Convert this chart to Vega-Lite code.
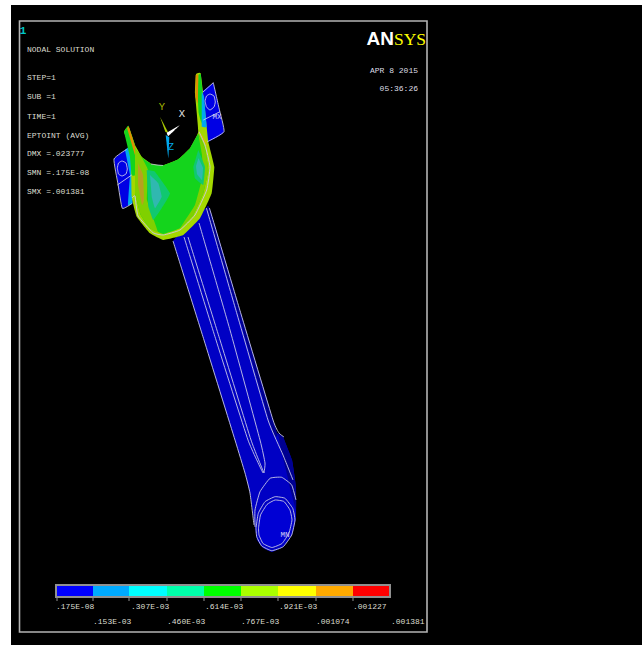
{
"$schema":"https://vega.github.io/schema/vega-lite/v6.json",
"width":642,"height":645,"padding":0,
"autosize":{"type":"fit","contains":"padding"},
"background":"#ffffff",
"config":{"view":{"stroke":null}},
"datasets":{
"polys":[
{"p":"shaft","b":"body","x":173,"y":241},{"p":"shaft","b":"body","x":204,"y":340},{"p":"shaft","b":"body","x":235,"y":440},{"p":"shaft","b":"body","x":245,"y":473},{"p":"shaft","b":"body","x":250,"y":493},{"p":"shaft","b":"body","x":255,"y":527},{"p":"shaft","b":"body","x":257,"y":540},{"p":"shaft","b":"body","x":263,"y":548},{"p":"shaft","b":"body","x":272,"y":552},{"p":"shaft","b":"body","x":283,"y":547},{"p":"shaft","b":"body","x":292,"y":535},{"p":"shaft","b":"body","x":296,"y":518},{"p":"shaft","b":"body","x":296,"y":487},{"p":"shaft","b":"body","x":292,"y":460},{"p":"shaft","b":"body","x":283,"y":437},{"p":"shaft","b":"body","x":277,"y":433},{"p":"shaft","b":"body","x":273,"y":420},{"p":"shaft","b":"body","x":241,"y":314},{"p":"shaft","b":"body","x":209.4,"y":208},{"p":"shaft","b":"body","x":190,"y":220},
{"p":"strip","b":"dark","x":206.4,"y":208},{"p":"strip","b":"dark","x":209.4,"y":208},{"p":"strip","b":"dark","x":243,"y":320},{"p":"strip","b":"dark","x":277,"y":433},{"p":"strip","b":"dark","x":273,"y":433},{"p":"strip","b":"dark","x":240,"y":320},
{"p":"bump","b":"dark","x":278,"y":433},{"p":"bump","b":"dark","x":283,"y":437},{"p":"bump","b":"dark","x":292,"y":460},{"p":"bump","b":"dark","x":296,"y":487},{"p":"bump","b":"dark","x":296,"y":510},{"p":"bump","b":"dark","x":291,"y":492},{"p":"bump","b":"dark","x":286,"y":470},{"p":"bump","b":"dark","x":281,"y":450},
{"p":"end","b":"face","x":258.5,"y":528},{"p":"end","b":"face","x":260.5,"y":515},{"p":"end","b":"face","x":267,"y":504.5},{"p":"end","b":"face","x":275,"y":500},{"p":"end","b":"face","x":284,"y":501.5},{"p":"end","b":"face","x":290,"y":510},{"p":"end","b":"face","x":292,"y":520},{"p":"end","b":"face","x":289,"y":533},{"p":"end","b":"face","x":282,"y":543.5},{"p":"end","b":"face","x":272,"y":547.5},{"p":"end","b":"face","x":263,"y":543.5},{"p":"end","b":"face","x":259,"y":535},

{"p":"lf","b":"flange","x":114,"y":159},{"p":"lf","b":"flange","x":126.7,"y":149.3},{"p":"lf","b":"flange","x":133.3,"y":175},{"p":"lf","b":"flange","x":132.3,"y":203.3},{"p":"lf","b":"flange","x":122.3,"y":208.3},
{"p":"lfc","b":"sky","x":125,"y":150},{"p":"lfc","b":"sky","x":130,"y":147},{"p":"lfc","b":"sky","x":134,"y":175},{"p":"lfc","b":"sky","x":132.5,"y":203},{"p":"lfc","b":"sky","x":128,"y":205},{"p":"lfc","b":"sky","x":130,"y":175},
{"p":"rf","b":"flange","x":213.3,"y":82.7},{"p":"rf","b":"flange","x":224,"y":131.7},{"p":"rf","b":"flange","x":207.3,"y":141.7},{"p":"rf","b":"flange","x":203,"y":120},{"p":"rf","b":"flange","x":201.7,"y":91.7},

{"p":"sil","b":"lime","x":128.3,"y":125.7},{"p":"sil","b":"lime","x":124,"y":131.7},{"p":"sil","b":"lime","x":130.7,"y":150},{"p":"sil","b":"lime","x":131.7,"y":196.7},{"p":"sil","b":"lime","x":136.7,"y":216.7},{"p":"sil","b":"lime","x":150,"y":233.3},{"p":"sil","b":"lime","x":163.3,"y":240},{"p":"sil","b":"lime","x":183.3,"y":235},{"p":"sil","b":"lime","x":200,"y":218.3},{"p":"sil","b":"lime","x":211.7,"y":193.3},{"p":"sil","b":"lime","x":214.3,"y":166.7},{"p":"sil","b":"lime","x":208.3,"y":141.7},{"p":"sil","b":"lime","x":205,"y":110},{"p":"sil","b":"lime","x":200.7,"y":73.3},{"p":"sil","b":"lime","x":196,"y":74},{"p":"sil","b":"lime","x":195,"y":93.3},{"p":"sil","b":"lime","x":198.3,"y":131.7},{"p":"sil","b":"lime","x":190,"y":148.3},{"p":"sil","b":"lime","x":178.3,"y":159.3},{"p":"sil","b":"lime","x":163.3,"y":165.3},{"p":"sil","b":"lime","x":151.7,"y":164},{"p":"sil","b":"lime","x":141.7,"y":156.7},{"p":"sil","b":"lime","x":135,"y":145},

{"p":"lw","b":"green","x":124,"y":131.7},{"p":"lw","b":"green","x":128.3,"y":125.7},{"p":"lw","b":"green","x":135,"y":145},{"p":"lw","b":"green","x":135,"y":175},{"p":"lw","b":"green","x":131.7,"y":175},{"p":"lw","b":"green","x":130,"y":157},
{"p":"lo","b":"orange","x":127,"y":128},{"p":"lo","b":"orange","x":129,"y":127},{"p":"lo","b":"orange","x":135,"y":146},{"p":"lo","b":"orange","x":135,"y":155},{"p":"lo","b":"orange","x":132,"y":145},
{"p":"rg","b":"green","x":198.3,"y":75},{"p":"rg","b":"green","x":200.7,"y":74},{"p":"rg","b":"green","x":203.3,"y":100},{"p":"rg","b":"green","x":201.7,"y":123.3},{"p":"rg","b":"green","x":198.7,"y":113.3},{"p":"rg","b":"green","x":197.7,"y":93.3},
{"p":"ro","b":"orange","x":195.7,"y":75},{"p":"ro","b":"orange","x":198.3,"y":75},{"p":"ro","b":"orange","x":197.7,"y":103.3},{"p":"ro","b":"orange","x":195.3,"y":96.7},
{"p":"rc","b":"sky","x":201.7,"y":91.7},{"p":"rc","b":"sky","x":204,"y":96.7},{"p":"rc","b":"sky","x":206.7,"y":126.7},{"p":"rc","b":"sky","x":201.7,"y":126.7},
{"p":"ry","b":"gold","x":199,"y":131},{"p":"ry","b":"gold","x":206,"y":141},{"p":"ry","b":"gold","x":208,"y":147},{"p":"ry","b":"gold","x":203,"y":140},

{"p":"in","b":"green","x":135,"y":148.3},{"p":"in","b":"green","x":141.7,"y":157.3},{"p":"in","b":"green","x":151.7,"y":164.3},{"p":"in","b":"green","x":163.3,"y":165.3},{"p":"in","b":"green","x":178.3,"y":159.3},{"p":"in","b":"green","x":190,"y":148.3},{"p":"in","b":"green","x":198.3,"y":134},{"p":"in","b":"green","x":205,"y":148.3},{"p":"in","b":"green","x":208.3,"y":170},{"p":"in","b":"green","x":203.3,"y":193.3},{"p":"in","b":"green","x":193.3,"y":215},{"p":"in","b":"green","x":180,"y":228.3},{"p":"in","b":"green","x":163.3,"y":234},{"p":"in","b":"green","x":150,"y":228.3},{"p":"in","b":"green","x":140.7,"y":215},{"p":"in","b":"green","x":135,"y":193.3},
{"p":"ly","b":"lime2","x":135,"y":148.3},{"p":"ly","b":"lime2","x":141.7,"y":157.3},{"p":"ly","b":"lime2","x":148,"y":170},{"p":"ly","b":"lime2","x":147,"y":200},{"p":"ly","b":"lime2","x":158,"y":232},{"p":"ly","b":"lime2","x":150,"y":228.3},{"p":"ly","b":"lime2","x":140.7,"y":215},{"p":"ly","b":"lime2","x":135,"y":193.3},
{"p":"ls","b":"brown","x":138,"y":163},{"p":"ls","b":"brown","x":143,"y":175},{"p":"ls","b":"brown","x":144,"y":200},{"p":"ls","b":"brown","x":142,"y":205},{"p":"ls","b":"brown","x":138,"y":185},
{"p":"ry2","b":"lime2","x":198.3,"y":134},{"p":"ry2","b":"lime2","x":205,"y":148.3},{"p":"ry2","b":"lime2","x":208.3,"y":170},{"p":"ry2","b":"lime2","x":203.3,"y":193.3},{"p":"ry2","b":"lime2","x":193.3,"y":215},{"p":"ry2","b":"lime2","x":180,"y":228.3},{"p":"ry2","b":"lime2","x":195,"y":205},{"p":"ry2","b":"lime2","x":203,"y":175},{"p":"ry2","b":"lime2","x":202,"y":155},
{"p":"lt","b":"teal","x":146.7,"y":170},{"p":"lt","b":"teal","x":155,"y":171.7},{"p":"lt","b":"teal","x":170,"y":193.3},{"p":"lt","b":"teal","x":161.7,"y":208.3},{"p":"lt","b":"teal","x":153.3,"y":220},{"p":"lt","b":"teal","x":148.3,"y":206.7},
{"p":"lc","b":"cyan","x":150,"y":175},{"p":"lc","b":"cyan","x":158.3,"y":183.3},{"p":"lc","b":"cyan","x":161.7,"y":196.7},{"p":"lc","b":"cyan","x":155,"y":208.3},{"p":"lc","b":"cyan","x":151.7,"y":196.7},
{"p":"rt","b":"teal","x":198.3,"y":150},{"p":"rt","b":"teal","x":205,"y":166.7},{"p":"rt","b":"teal","x":203.3,"y":185},{"p":"rt","b":"teal","x":195,"y":178.3},{"p":"rt","b":"teal","x":193.3,"y":166.7},
{"p":"rcy","b":"cyan","x":198.5,"y":158},{"p":"rcy","b":"cyan","x":203,"y":168},{"p":"rcy","b":"cyan","x":202,"y":180},{"p":"rcy","b":"cyan","x":197,"y":174},{"p":"rcy","b":"cyan","x":196,"y":166},

{"p":"ty","b":"olive","x":160,"y":116.7},{"p":"ty","b":"olive","x":168.3,"y":132.7},{"p":"ty","b":"olive","x":165.3,"y":131.7},
{"p":"tx","b":"white","x":180,"y":125},{"p":"tx","b":"white","x":168.3,"y":136},{"p":"tx","b":"white","x":166.7,"y":132.7},
{"p":"tz","b":"sky","x":165.7,"y":135},{"p":"tz","b":"sky","x":168.3,"y":158.3},{"p":"tz","b":"sky","x":169.3,"y":137.3}
],
"wires":[
{"p":"e1","x":173,"y":241},{"p":"e1","x":204,"y":340},{"p":"e1","x":235,"y":440},{"p":"e1","x":245,"y":473},{"p":"e1","x":250,"y":493},{"p":"e1","x":254,"y":525},
{"p":"a1","x":184,"y":237},{"p":"a1","x":216,"y":340},{"p":"a1","x":248,"y":440},{"p":"a1","x":263,"y":473},
{"p":"a2","x":188,"y":237},{"p":"a2","x":220,"y":340},{"p":"a2","x":251,"y":440},{"p":"a2","x":264,"y":473},
{"p":"b1","x":199,"y":223},{"p":"b1","x":230,"y":330},{"p":"b1","x":260,"y":440},{"p":"b1","x":265,"y":463},{"p":"b1","x":264,"y":473},
{"p":"c1","x":206.4,"y":208},{"p":"c1","x":237,"y":314},{"p":"c1","x":268,"y":420},{"p":"c1","x":283,"y":455},{"p":"c1","x":293,"y":480},
{"p":"c2","x":209.4,"y":208},{"p":"c2","x":241,"y":314},{"p":"c2","x":273,"y":420},{"p":"c2","x":279,"y":433},{"p":"c2","x":284,"y":437},
{"p":"arc","x":255,"y":527},{"p":"arc","x":255,"y":510},{"p":"arc","x":260,"y":491.7},{"p":"arc","x":270,"y":478.3},{"p":"arc","x":281.7,"y":477.3},{"p":"arc","x":291.7,"y":485},{"p":"arc","x":296,"y":500},
{"p":"r1","x":256,"y":528},{"p":"r1","x":258.3,"y":513.3},{"p":"r1","x":265,"y":501.7},{"p":"r1","x":275,"y":496.7},{"p":"r1","x":285,"y":498.3},{"p":"r1","x":292.7,"y":508.3},{"p":"r1","x":295,"y":520},{"p":"r1","x":291.7,"y":535},{"p":"r1","x":283.3,"y":546.7},{"p":"r1","x":271.7,"y":550.7},{"p":"r1","x":261.7,"y":546},{"p":"r1","x":256.7,"y":536.7},{"p":"r1","x":256,"y":528},
{"p":"r2","x":258.5,"y":528},{"p":"r2","x":260.5,"y":515},{"p":"r2","x":267,"y":504.5},{"p":"r2","x":275,"y":500},{"p":"r2","x":284,"y":501.5},{"p":"r2","x":290,"y":510},{"p":"r2","x":292,"y":520},{"p":"r2","x":289,"y":533},{"p":"r2","x":282,"y":543.5},{"p":"r2","x":272,"y":547.5},{"p":"r2","x":263,"y":543.5},{"p":"r2","x":259,"y":535},{"p":"r2","x":258.5,"y":528},
{"p":"lf1","x":126.7,"y":149.3},{"p":"lf1","x":114,"y":159},{"p":"lf1","x":118,"y":184},{"p":"lf1","x":122.3,"y":208.3},{"p":"lf1","x":132.3,"y":203.3},
{"p":"lf2","x":117.3,"y":185},{"p":"lf2","x":131.7,"y":175},
{"p":"h1","x":117.3,"y":168},{"p":"h1","x":118.5,"y":163},{"p":"h1","x":122,"y":161},{"p":"h1","x":126,"y":163},{"p":"h1","x":127.3,"y":169},{"p":"h1","x":126,"y":174},{"p":"h1","x":122,"y":176},{"p":"h1","x":118.5,"y":174},{"p":"h1","x":117.3,"y":168},
{"p":"rf1","x":213.3,"y":82.7},{"p":"rf1","x":219,"y":108},{"p":"rf1","x":224,"y":131.7},{"p":"rf1","x":207.3,"y":141.7},
{"p":"rf2","x":203.3,"y":120},{"p":"rf2","x":220,"y":111.7},
{"p":"rf3","x":213.3,"y":82.7},{"p":"rf3","x":203,"y":92},
{"p":"h2","x":205,"y":101},{"p":"h2","x":206.5,"y":96},{"p":"h2","x":210,"y":94},{"p":"h2","x":214,"y":96},{"p":"h2","x":215.3,"y":102},{"p":"h2","x":214,"y":107},{"p":"h2","x":210,"y":110},{"p":"h2","x":206.5,"y":107},{"p":"h2","x":205,"y":101},
{"p":"rim","x":132,"y":198},{"p":"rim","x":135,"y":196},{"p":"rim","x":138,"y":216},{"p":"rim","x":153,"y":232.7},{"p":"rim","x":163.3,"y":235},{"p":"rim","x":180,"y":230},{"p":"rim","x":195,"y":215},{"p":"rim","x":206.7,"y":190},{"p":"rim","x":210,"y":166.7},{"p":"rim","x":205,"y":145},{"p":"rim","x":199,"y":131.7},
{"p":"lip","x":151,"y":164},{"p":"lip","x":157,"y":165},{"p":"lip","x":163,"y":165.5}
],
"bands":[
{"b":"l0","x0":57,"x1":93,"t":57},{"b":"l1","x0":93,"x1":129,"t":93},{"b":"l2","x0":129,"x1":167,"t":129},{"b":"l3","x0":167,"x1":204,"t":167},{"b":"l4","x0":204,"x1":241,"t":204},{"b":"l5","x0":241,"x1":278,"t":241},{"b":"l6","x0":278,"x1":316,"t":278},{"b":"l7","x0":316,"x1":353,"t":316},{"b":"l8","x0":353,"x1":389,"t":353}
],
"info":[
{"t":"NODAL SOLUTION","x":27,"y":50},{"t":"STEP=1","x":27,"y":78},{"t":"SUB =1","x":27,"y":97},{"t":"TIME=1","x":27,"y":117},{"t":"EPTOINT  (AVG)","x":27,"y":136},{"t":"DMX =.023777","x":27,"y":154},{"t":"SMN =.175E-08","x":27,"y":173},{"t":"SMX =.001381","x":27,"y":192},
{"t":".175E-08","x":56,"y":607},{"t":".307E-03","x":131,"y":607},{"t":".614E-03","x":205,"y":607},{"t":".921E-03","x":279,"y":607},{"t":".001227","x":353,"y":607},
{"t":".153E-03","x":93,"y":622},{"t":".460E-03","x":167,"y":622},{"t":".767E-03","x":241,"y":622},{"t":".001074","x":316,"y":622},{"t":".001381","x":391,"y":622}
]
},
"layer":[
{"data":{"values":[{"k":"screen"}]},"mark":{"type":"rect","fill":"#000000"},"encoding":{
"x":{"datum":11,"type":"quantitative","scale":{"domain":[0,642],"nice":false,"zero":false},"axis":null},"x2":{"datum":642},
"y":{"datum":5,"type":"quantitative","scale":{"domain":[645,0],"nice":false,"zero":false},"axis":null},"y2":{"datum":645}}},
{"data":{"values":[{"k":"frame"}]},"mark":{"type":"rect","fill":"#000000","stroke":"#b4b4b4","strokeWidth":1.6},"encoding":{
"x":{"datum":19.5,"type":"quantitative","scale":{"domain":[0,642],"nice":false,"zero":false},"axis":null},"x2":{"datum":427},
"y":{"datum":21,"type":"quantitative","scale":{"domain":[645,0],"nice":false,"zero":false},"axis":null},"y2":{"datum":632}}},
{"data":{"name":"polys"},"mark":{"type":"line","strokeWidth":0,"strokeOpacity":0,"interpolate":"cardinal","tension":0.75},"encoding":{
"x":{"field":"x","type":"quantitative","scale":{"domain":[0,642],"nice":false,"zero":false},"axis":null},
"y":{"field":"y","type":"quantitative","scale":{"domain":[645,0],"nice":false,"zero":false},"axis":null},
"detail":{"field":"p"},"order":{"value":null},
"fill":{"field":"b","type":"nominal","legend":null,"scale":{"domain":["body","dark","face","flange","sky","lime","lime2","green","orange","gold","brown","teal","cyan","olive","white","l0","l1","l2","l3","l4","l5","l6","l7","l8"],"range":["#0000c4","#000090","#0000d4","#0000e4","#00a8f0","#a4d800","#80d000","#14d41c","#e09000","#d8c000","#b8a020","#10c870","#30b8b0","#a8c800","#ffffff","#0000ff","#00aaff","#00ffff","#00ffaa","#00ff00","#aaff00","#ffff00","#ffaa00","#ff0000"]}}}},
{"data":{"name":"wires"},"mark":{"type":"line","stroke":"#c8c8e8","strokeWidth":0.9,"interpolate":"cardinal","tension":0.6},"encoding":{
"x":{"field":"x","type":"quantitative","scale":{"domain":[0,642],"nice":false,"zero":false},"axis":null},
"y":{"field":"y","type":"quantitative","scale":{"domain":[645,0],"nice":false,"zero":false},"axis":null},
"detail":{"field":"p"},"order":{"value":null}}},
{"data":{"values":[{"k":"legend frame"}]},"mark":{"type":"rect","fill":"#000000","stroke":"#909090","strokeWidth":2},"encoding":{
"x":{"datum":56,"type":"quantitative","scale":{"domain":[0,642],"nice":false,"zero":false},"axis":null},"x2":{"datum":390},
"y":{"datum":585,"type":"quantitative","scale":{"domain":[645,0],"nice":false,"zero":false},"axis":null},"y2":{"datum":597}}},
{"data":{"name":"bands"},"mark":{"type":"rule","stroke":"#909090","strokeWidth":1},"encoding":{
"x":{"field":"t","type":"quantitative","scale":{"domain":[0,642],"nice":false,"zero":false},"axis":null},
"y":{"datum":597,"type":"quantitative","scale":{"domain":[645,0],"nice":false,"zero":false},"axis":null},"y2":{"datum":601}}},
{"data":{"name":"bands"},"mark":{"type":"rect"},"encoding":{
"x":{"field":"x0","type":"quantitative","scale":{"domain":[0,642],"nice":false,"zero":false},"axis":null},"x2":{"field":"x1"},
"y":{"datum":586,"type":"quantitative","scale":{"domain":[645,0],"nice":false,"zero":false},"axis":null},"y2":{"datum":596},
"fill":{"field":"b","type":"nominal","legend":null}}},
{"data":{"name":"info"},"mark":{"type":"text","font":"Liberation Mono","fontSize":8,"fill":"#dcdcd0","align":"left","baseline":"middle"},"encoding":{
"x":{"field":"x","type":"quantitative","scale":{"domain":[0,642],"nice":false,"zero":false},"axis":null},
"y":{"field":"y","type":"quantitative","scale":{"domain":[645,0],"nice":false,"zero":false},"axis":null},
"text":{"field":"t"}}},
{"data":{"values":[{"t":"APR  8 2015","x":418,"y":70.5},{"t":"05:36:26","x":418,"y":89}]},"mark":{"type":"text","font":"Liberation Mono","fontSize":8,"fill":"#dcdce4","align":"right","baseline":"middle"},"encoding":{
"x":{"field":"x","type":"quantitative","scale":{"domain":[0,642],"nice":false,"zero":false},"axis":null},
"y":{"field":"y","type":"quantitative","scale":{"domain":[645,0],"nice":false,"zero":false},"axis":null},
"text":{"field":"t"}}},
{"data":{"values":[{"t":"1","x":23,"y":31}]},"mark":{"type":"text","font":"Liberation Mono","fontSize":11,"fontWeight":"bold","fill":"#00c8c8","align":"center","baseline":"middle"},"encoding":{
"x":{"field":"x","type":"quantitative","scale":{"domain":[0,642],"nice":false,"zero":false},"axis":null},
"y":{"field":"y","type":"quantitative","scale":{"domain":[645,0],"nice":false,"zero":false},"axis":null},
"text":{"field":"t"}}},
{"data":{"values":[{"t":"MX","x":217,"y":117},{"t":"MN","x":285,"y":535}]},"mark":{"type":"text","font":"Liberation Mono","fontSize":7.5,"fill":"#d0d0f4","align":"center","baseline":"middle"},"encoding":{
"x":{"field":"x","type":"quantitative","scale":{"domain":[0,642],"nice":false,"zero":false},"axis":null},
"y":{"field":"y","type":"quantitative","scale":{"domain":[645,0],"nice":false,"zero":false},"axis":null},
"text":{"field":"t"}}},
{"data":{"values":[{"t":"Y","x":162,"y":107}]},"mark":{"type":"text","font":"Liberation Mono","fontSize":10.5,"fill":"#a8b800","align":"center","baseline":"middle"},"encoding":{
"x":{"field":"x","type":"quantitative","scale":{"domain":[0,642],"nice":false,"zero":false},"axis":null},
"y":{"field":"y","type":"quantitative","scale":{"domain":[645,0],"nice":false,"zero":false},"axis":null},
"text":{"field":"t"}}},
{"data":{"values":[{"t":"X","x":182,"y":114}]},"mark":{"type":"text","font":"Liberation Mono","fontSize":10.5,"fill":"#e8e8e8","align":"center","baseline":"middle"},"encoding":{
"x":{"field":"x","type":"quantitative","scale":{"domain":[0,642],"nice":false,"zero":false},"axis":null},
"y":{"field":"y","type":"quantitative","scale":{"domain":[645,0],"nice":false,"zero":false},"axis":null},
"text":{"field":"t"}}},
{"data":{"values":[{"t":"Z","x":171,"y":147}]},"mark":{"type":"text","font":"Liberation Mono","fontSize":10.5,"fill":"#00a8e8","align":"center","baseline":"middle"},"encoding":{
"x":{"field":"x","type":"quantitative","scale":{"domain":[0,642],"nice":false,"zero":false},"axis":null},
"y":{"field":"y","type":"quantitative","scale":{"domain":[645,0],"nice":false,"zero":false},"axis":null},
"text":{"field":"t"}}},
{"data":{"values":[{"t":"AN","x":394,"y":45}]},"mark":{"type":"text","font":"Liberation Sans","fontSize":19,"fontWeight":"bold","fill":"#ffffff","align":"right","baseline":"alphabetic"},"encoding":{
"x":{"field":"x","type":"quantitative","scale":{"domain":[0,642],"nice":false,"zero":false},"axis":null},
"y":{"field":"y","type":"quantitative","scale":{"domain":[645,0],"nice":false,"zero":false},"axis":null},
"text":{"field":"t"}}},
{"data":{"values":[{"t":"SYS","x":394,"y":45}]},"mark":{"type":"text","font":"Liberation Serif","fontSize":17.5,"fill":"#ffff00","align":"left","baseline":"alphabetic"},"encoding":{
"x":{"field":"x","type":"quantitative","scale":{"domain":[0,642],"nice":false,"zero":false},"axis":null},
"y":{"field":"y","type":"quantitative","scale":{"domain":[645,0],"nice":false,"zero":false},"axis":null},
"text":{"field":"t"}}}
]
}
